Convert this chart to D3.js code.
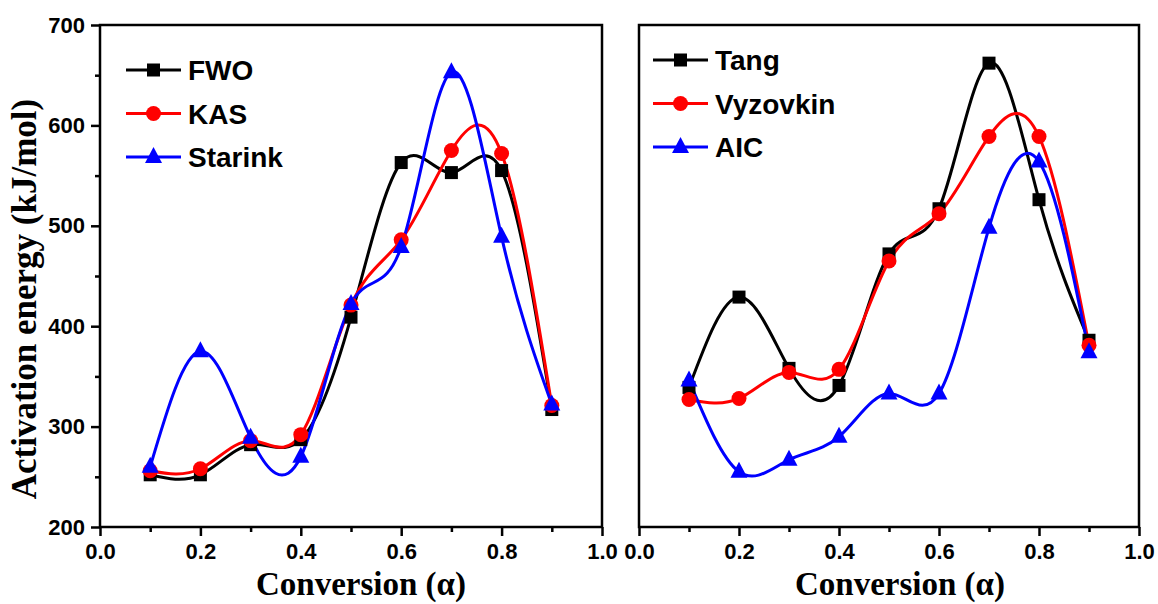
<html>
<head>
<script src="https://d3js.org/d3.v7.min.js"></script>
<style>
body { margin: 0; background: #fff; }
text { font-family: "Liberation Sans", Arial, sans-serif; }
.title { font-family: "Liberation Serif", "Times New Roman", serif; font-weight: bold; }
</style>
</head>
<body>
<div id="plot"></div>
<script>

var width = 1158;
var height = 604;

// conversion values shared by both panels
var alpha = [0.1, 0.2, 0.3, 0.4, 0.5, 0.6, 0.7, 0.8, 0.9];

// left panel
var fwo     = [252, 252, 282, 287, 409, 563, 553, 555, 317];
var kas     = [256, 258, 286, 292, 421, 486, 575, 572, 321];
var starink = [260, 375, 289, 270, 422, 479, 653, 489, 322];

// right panel
var tang     = [339, 429, 358, 341, 472, 517, 662, 526, 386];
var vyzovkin = [327, 328, 354, 357, 465, 512, 589, 589, 381];
var aic      = [346, 255, 267, 290, 333, 333, 498, 564, 374];

var xMajor = [0, 0.2, 0.4, 0.6, 0.8, 1.0];
var xMinor = [0.1, 0.3, 0.5, 0.7, 0.9];
var yMajor = [200, 300, 400, 500, 600, 700];
var yMinor = [250, 350, 450, 550, 650];

var leftSeries = [
	{ name: "FWO", values: fwo, color: "#000000", symbol: "square" },
	{ name: "KAS", values: kas, color: "#ff0000", symbol: "circle" },
	{ name: "Starink", values: starink, color: "#0000ff", symbol: "triangle" }
];
var rightSeries = [
	{ name: "Tang", values: tang, color: "#000000", symbol: "square" },
	{ name: "Vyzovkin", values: vyzovkin, color: "#ff0000", symbol: "circle" },
	{ name: "AIC", values: aic, color: "#0000ff", symbol: "triangle" }
];

var svg = d3.select("#plot").append("svg").attr("width", width).attr("height", height);

var plotTop = 25, plotBottom = 527;
var yScale = d3.scaleLinear().domain([200, 700]).range([plotBottom, plotTop]);

function drawMarker(g, symbol, color, x, y) {
	if (symbol == "square") {
		g.append("rect").attr("x", x - 6.5).attr("y", y - 6.5)
		.attr("width", 13).attr("height", 13).style("fill", color);
	} else if (symbol == "circle") {
		g.append("circle").attr("cx", x).attr("cy", y).attr("r", 7.5).style("fill", color);
	} else {
		g.append("path")
		.attr("d", "M" + x + "," + (y - 10) + "L" + (x + 8.5) + "," + (y + 6) + "L" + (x - 8.5) + "," + (y + 6) + "Z")
		.style("fill", color);
	}
}

function drawPanel(left, right, series, showYLabels, legendY, legendX, titleX) {
	var xScale = d3.scaleLinear().domain([0, 1]).range([left, right]);
	var g = svg.append("g");

	// frame
	g.append("rect").attr("x", left).attr("y", plotTop)
	.attr("width", right - left).attr("height", plotBottom - plotTop)
	.style("fill", "none").style("stroke", "#000").style("stroke-width", 2.5);

	// x axis, major + minor ticks
	g.append("g").attr("transform", "translate(0," + plotBottom + ")")
	.call(d3.axisBottom(xScale).tickValues(xMajor).tickSize(9).tickPadding(7)
		.tickFormat(d3.format(".1f")));
	g.append("g").attr("transform", "translate(0," + plotBottom + ")")
	.call(d3.axisBottom(xScale).tickValues(xMinor).tickSize(5).tickFormat(""));

	if (showYLabels) {
		g.append("g").attr("transform", "translate(" + left + ",0)")
		.call(d3.axisLeft(yScale).tickValues(yMajor).tickSize(9).tickPadding(6));
		g.append("g").attr("transform", "translate(" + left + ",0)")
		.call(d3.axisLeft(yScale).tickValues(yMinor).tickSize(5).tickFormat(""));
	}
	g.selectAll(".domain").remove();
	g.selectAll(".tick line").style("stroke", "#000").style("stroke-width", 2.5);
	g.selectAll(".tick text").style("fill", "#000")
	.style("font-family", "'Liberation Sans', Arial, sans-serif")
	.style("font-weight", "bold").style("font-size", "22px");

	// spline lines
	var line = d3.line()
	.x(function(d, i) { return xScale(alpha[i]); })
	.y(function(d) { return yScale(d); })
	.curve(d3.curveNatural);

	series.forEach(function(s) {
		g.append("path").datum(s.values).attr("d", line)
		.style("fill", "none").style("stroke", s.color).style("stroke-width", 3);
	});
	series.forEach(function(s) {
		s.values.forEach(function(v, i) {
			drawMarker(g, s.symbol, s.color, xScale(alpha[i]), yScale(v));
		});
	});

	// legend
	series.forEach(function(s, i) {
		var y = legendY + i * 43.5;
		g.append("line").attr("x1", legendX).attr("x2", legendX + 55)
		.attr("y1", y).attr("y2", y).style("stroke", s.color).style("stroke-width", 3);
		drawMarker(g, s.symbol, s.color, legendX + 27.5, y);
		g.append("text").attr("x", legendX + 62).attr("y", y).attr("dy", "0.36em")
		.style("font-size", "28px").style("font-weight", "bold").text(s.name);
	});

	g.append("text").attr("class", "title")
	.attr("x", titleX).attr("y", 595).attr("text-anchor", "middle")
	.style("font-size", "33px").text("Conversion (\u03b1)");
}

drawPanel(100, 602, leftSeries, true, 70, 126, 361);
drawPanel(639, 1139, rightSeries, false, 60, 653, 900);

svg.append("text").attr("class", "title")
.attr("transform", "translate(36,299) rotate(-90)")
.attr("text-anchor", "middle")
.style("font-size", "35px")
.text("Activation energy (kJ/mol)");

</script>
</body>
</html>
